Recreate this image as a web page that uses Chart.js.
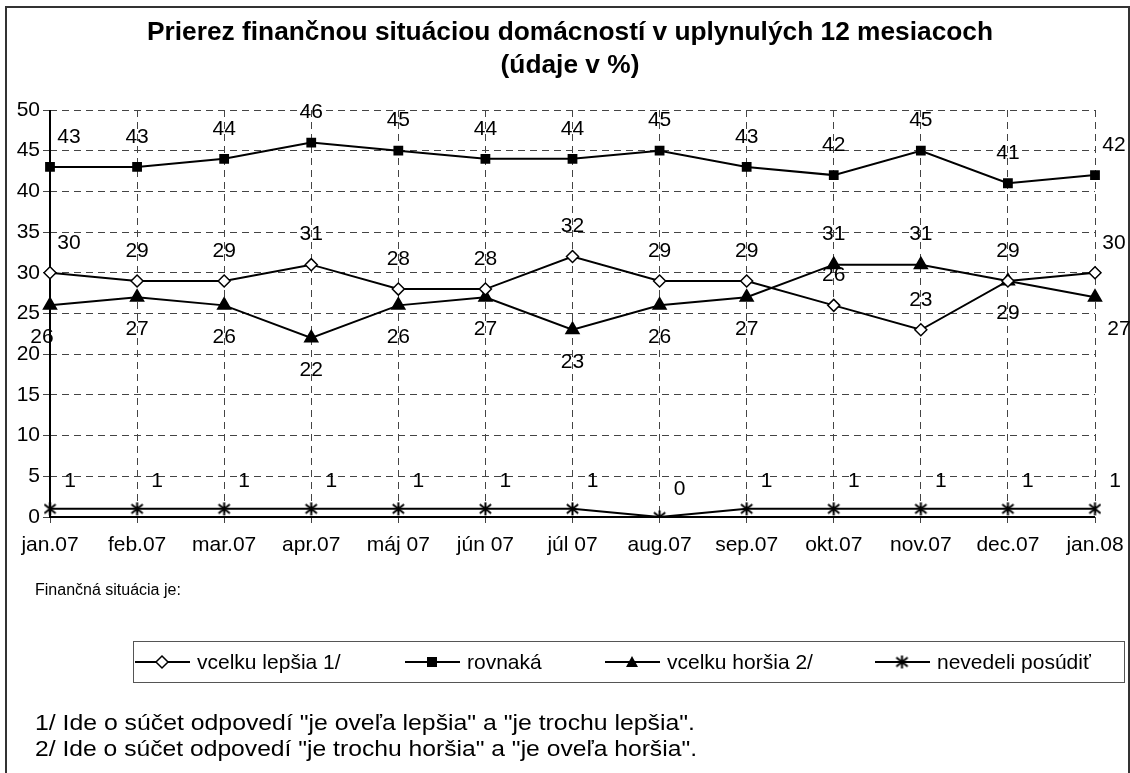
<!DOCTYPE html>
<html><head><meta charset="utf-8">
<script src="https://cdn.jsdelivr.net/npm/chart.js@4/dist/chart.umd.min.js"></script>
<style>html,body{margin:0;padding:0;background:#fff}#wrap{width:1130px;height:773px;position:relative}</style>
</head><body><div id="wrap"><canvas id="c" width="1130" height="773"></canvas></div>
<script>
const categories = ["jan.07","feb.07","mar.07","apr.07","máj 07","jún 07","júl 07","aug.07","sep.07","okt.07","nov.07","dec.07","jan.08"];
const lepsia   = [30,29,29,31,28,28,32,29,29,26,23,29,30];
const rovnaka  = [43,43,44,46,45,44,44,45,43,42,45,41,42];
const horsia   = [26,27,26,22,26,27,23,26,27,31,31,29,27];
const nevedeli = [1,1,1,1,1,1,1,0,1,1,1,1,1];
const seriesNames = ["vcelku lepšia 1/","rovnaká","vcelku horšia 2/","nevedeli posúdiť"];
const yTicks = [0,5,10,15,20,25,30,35,40,45,50];
const titleLines = ["Prierez finančnou situáciou domácností v uplynulých 12 mesiacoch","(údaje v %)"];
const subLabel = "Finančná situácia je:";
const footnotes = ["1/ Ide o súčet odpovedí \"je oveľa lepšia\" a \"je trochu lepšia\".","2/ Ide o súčet odpovedí \"je trochu horšia\" a \"je oveľa horšia\"."];

const FONT = "'Liberation Sans', Arial, sans-serif";

function makeAsterisk(size){
  const c = document.createElement('canvas'); c.width = size; c.height = size;
  const x = c.getContext('2d'); x.strokeStyle = '#000'; x.lineWidth = 2;
  const h = size/2, r = size/2 - 1;
  x.beginPath();
  x.moveTo(h, h - r); x.lineTo(h, h + r);
  const a = r*0.87, b = r*0.7;
  x.moveTo(h - a, h - b); x.lineTo(h + a, h + b);
  x.moveTo(h + a, h - b); x.lineTo(h - a, h + b);
  x.stroke();
  return c;
}
const asterisk = makeAsterisk(15);

function drawMarker(ctx, type, x, y){
  ctx.save(); ctx.lineWidth = 1.5; ctx.strokeStyle = '#000';
  if (type === 0){ ctx.fillStyle='#fff'; ctx.beginPath(); ctx.moveTo(x,y-6); ctx.lineTo(x+6,y); ctx.lineTo(x,y+6); ctx.lineTo(x-6,y); ctx.closePath(); ctx.fill(); ctx.stroke(); }
  else if (type === 1){ ctx.fillStyle='#000'; ctx.fillRect(x-5,y-5,10,10); }
  else if (type === 2){ ctx.fillStyle='#000'; ctx.beginPath(); ctx.moveTo(x,y-6); ctx.lineTo(x+6,y+5); ctx.lineTo(x-6,y+5); ctx.closePath(); ctx.fill(); }
  else { ctx.drawImage(asterisk, x-7.5, y-7.5); }
  ctx.restore();
}

function stretchText(ctx, text, x, y, width, align){
  const w = ctx.measureText(text).width;
  const sx = width / w;
  ctx.save();
  ctx.textAlign = 'left';
  const left = align === 'center' ? x - width/2 : x;
  ctx.translate(left, y); ctx.scale(sx, 1);
  ctx.fillText(text, 0, 0);
  ctx.restore();
}

const axes = {
  id: 'axes',
  beforeDatasetsDraw(chart){
    const ctx = chart.ctx, a = chart.chartArea;
    ctx.save(); ctx.strokeStyle = '#000'; ctx.lineWidth = 2; ctx.setLineDash([]);
    ctx.beginPath();
    ctx.moveTo(a.left, a.top); ctx.lineTo(a.left, a.bottom); ctx.lineTo(a.right, a.bottom);
    ctx.stroke(); ctx.restore();
  }
};

const decor = {
  id: 'decor',
  beforeDraw(chart){
    const ctx = chart.ctx; ctx.save();
    ctx.fillStyle = '#fff'; ctx.fillRect(0,0,chart.width,chart.height);
    ctx.restore();
  },
  afterDraw(chart){
    const ctx = chart.ctx; ctx.save();
    ctx.strokeStyle = '#333'; ctx.lineWidth = 2;
    ctx.strokeRect(6, 7, 1123, 775);
    ctx.fillStyle = '#000'; ctx.textBaseline = 'middle';
    ctx.font = "bold 25px " + FONT;
    const w0 = ctx.measureText(titleLines[0]).width;
    const sx = 846 / w0;
    stretchText(ctx, titleLines[0], 570, 33, 846, 'center');
    stretchText(ctx, titleLines[1], 570, 66, ctx.measureText(titleLines[1]).width * sx, 'center');
    ctx.textAlign = 'center';
    ctx.font = "21px " + FONT;
    const last = categories.length - 1;
    chart.data.datasets.forEach((ds, di) => {
      const meta = chart.getDatasetMeta(di);
      meta.data.forEach((pt, i) => {
        const v = ds.data[i];
        let dx = 0, dy = -30;
        if (di === 2){
          if (v > lepsia[i]) dy = -30; else dy = 32;
        }
        if (di === 3){ dx = 20; dy = -28; }
        else if (i === 0 || i === last){ dx = dy < 0 ? 19 : (i === 0 ? -8 : 24); }
        ctx.fillText(String(v), pt.x + dx, pt.y + dy);
      });
    });
    ctx.textAlign = 'left';
    ctx.font = "16px " + FONT;
    ctx.fillText(subLabel, 35, 591);
    ctx.strokeStyle = '#555'; ctx.lineWidth = 1;
    ctx.strokeRect(133.5, 641.5, 991, 41);
    const lx = [135, 405, 605, 875];
    ctx.font = "21px " + FONT;
    seriesNames.forEach((n, k) => {
      const y = 662;
      ctx.strokeStyle = '#000'; ctx.lineWidth = 2;
      ctx.beginPath(); ctx.moveTo(lx[k], y); ctx.lineTo(lx[k]+55, y); ctx.stroke();
      drawMarker(ctx, k, lx[k]+27, y);
      ctx.fillStyle = '#000';
      ctx.fillText(n, lx[k]+62, y+1);
    });
    ctx.font = "22px " + FONT;
    stretchText(ctx, footnotes[0], 35, 724, 660, 'left');
    stretchText(ctx, footnotes[1], 35, 750, 662, 'left');
    ctx.restore();
  }
};

const diamond = {pointStyle:'rectRot', pointRadius:6, pointBackgroundColor:'#fff', pointBorderColor:'#000', pointBorderWidth:1.5};
new Chart(document.getElementById('c'), {
  type: 'line',
  data: {
    labels: categories,
    datasets: [
      Object.assign({label: seriesNames[0], data: lepsia, borderColor:'#000', borderWidth:2}, diamond),
      {label: seriesNames[1], data: rovnaka, borderColor:'#000', borderWidth:2, pointStyle:'rect', pointRadius:5.5, pointBackgroundColor:'#000', pointBorderColor:'#000'},
      {label: seriesNames[2], data: horsia, borderColor:'#000', borderWidth:2, pointStyle:'triangle', pointRadius:7, pointBackgroundColor:'#000', pointBorderColor:'#000'},
      {label: seriesNames[3], data: nevedeli, borderColor:'#000', borderWidth:2, pointStyle:asterisk}
    ]
  },
  options: {
    responsive: false, animation: false, devicePixelRatio: 1,
    layout: {padding: {left: 0, top: 110, right: 35, bottom: 216}},
    plugins: {legend: {display:false}, title:{display:false}, tooltip:{enabled:false}},
    elements: {line: {tension: 0}},
    scales: {
      x: {
        offset: false,
        grid: {color:'#444', lineWidth:1, drawTicks:true, tickLength:6, tickColor:'#444'},
        border: {display:false, dash:[7,5]},
        ticks: {color:'#000', font:{family:FONT, size:21}, padding:10, maxRotation:0, autoSkip:false},
        afterFit(s){ s.height = 40; s.paddingRight = 0; s.paddingLeft = 0; }
      },
      y: {
        min: 0, max: 50,
        afterBuildTicks(s){ s.ticks = yTicks.map(v => ({value: v})); },
        grid: {color:'#444', lineWidth:1, tickLength:7, drawTicks:true, tickColor:'#444'},
        border: {display:false, dash:[7,5]},
        ticks: {color:'#000', font:{family:FONT, size:21}, padding:3},
        afterFit(s){ s.width = 50; s.paddingTop = 0; s.paddingBottom = 0; }
      }
    }
  },
  plugins: [decor, axes]
});
</script></body></html>
